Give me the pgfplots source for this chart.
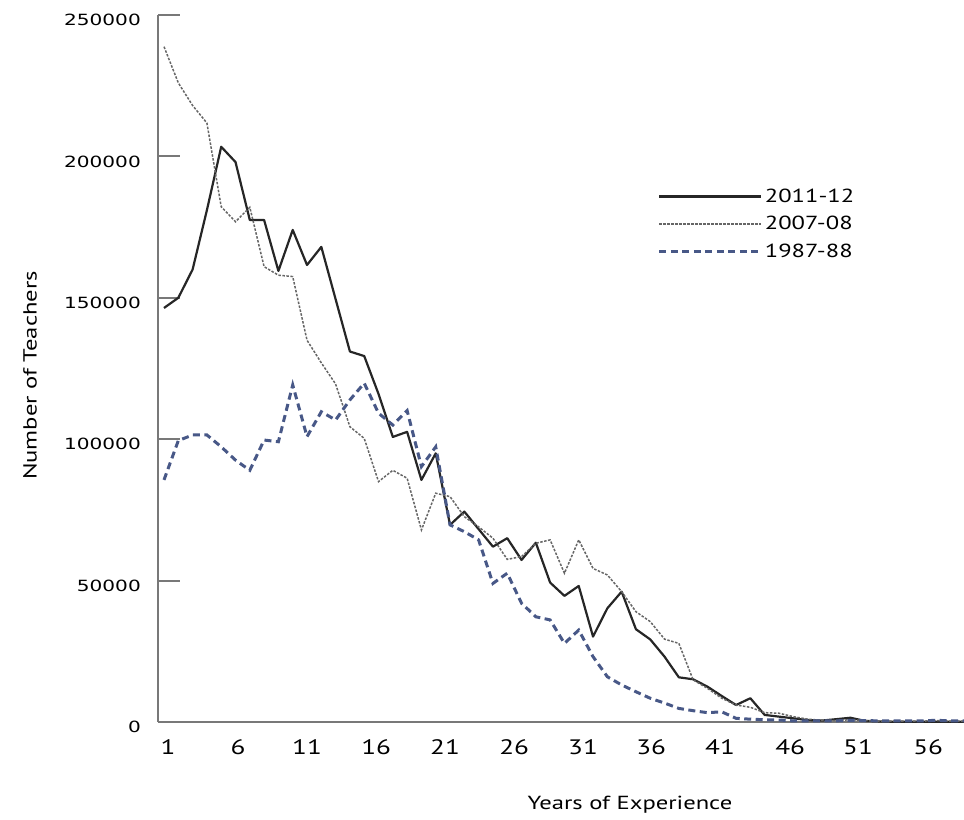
\documentclass[border=0pt]{standalone}
\usepackage{pgfplots}
\pgfplotsset{compat=1.18}
\usepackage{pgfplotstable}
\usepackage{fontspec}
\setmainfont[FakeStretch=1.3]{PT Sans}
\newfontfamily\yfont[FakeStretch=1.3]{DejaVu Sans}
\definecolor{slateblue}{RGB}{72,88,135}
\definecolor{axgray}{RGB}{120,120,120}

\pgfplotstableread{
x y
1 146400
2 150000
3 160000
4 181000
5 203400
6 198000
7 177500
8 177500
9 159500
10 174000
11 161600
12 168000
13 149500
14 131000
15 129400
16 116000
17 100800
18 102600
19 85600
20 95000
21 69700
22 74400
23 68200
24 62000
25 65000
26 57300
27 63400
28 49300
29 44600
30 48100
31 30200
32 40200
33 46100
34 32800
35 29200
36 23100
37 15800
38 15100
39 12500
40 9200
41 6000
42 8400
43 2500
44 1900
45 1300
46 700
47 500
48 1000
49 1500
50 400
51 200
52 100
53 100
54 100
55 100
56 100
56.94 100
}\dataA

\pgfplotstableread{
x y
1 238800
2 226000
3 218000
4 211800
5 182200
6 176900
7 182000
8 161000
9 158000
10 157500
11 135000
12 127000
13 119500
14 104400
15 100300
16 85000
17 89000
18 86200
19 67900
20 80900
21 79700
22 72600
23 69000
24 65000
25 57500
26 58500
27 63200
28 64400
29 52600
30 64400
31 54300
32 52000
33 46100
34 39000
35 35500
36 29300
37 27800
38 14900
39 11900
40 8400
41 6000
42 5200
43 3300
44 3100
45 1900
46 1000
47 600
48 500
49 800
50 500
51 300
52 300
53 300
54 300
55 500
56 300
56.94 300
}\dataB

\pgfplotstableread{
x y
1 85600
2 99500
3 101500
4 101500
5 97300
6 92600
7 89000
8 99700
9 99100
10 119200
11 100900
12 109700
13 106800
14 113900
15 119800
16 109200
17 105000
18 110100
19 90300
20 97300
21 69700
22 67300
23 64400
24 49000
25 52600
26 42000
27 37200
28 36100
29 27800
30 32500
31 23100
32 16000
33 13100
34 10700
35 8400
36 6700
37 4800
38 4000
39 3300
40 3600
41 1300
42 1000
43 800
44 700
45 400
46 400
47 400
48 400
49 600
50 500
51 400
52 400
53 400
54 400
55 600
56 400
56.94 400
}\dataC

\begin{document}
\begin{tikzpicture}
\path[use as bounding box] (0bp,0bp) rectangle (964bp,820bp);
\begin{axis}[
  at={(158bp,98bp)}, anchor=south west,
  scale only axis,
  width=806bp, height=707bp,
  xmin=0.58, xmax=56.94,
  ymin=0, ymax=250000,
  clip=false,
  axis lines=left,
  axis line style={draw=axgray, line width=2bp, -},
  xtick={1.28,6.17,11.0,15.83,20.65,25.48,30.30,35.06,39.88,44.78,49.53,54.43},
  xticklabels={1,6,11,16,21,26,31,36,41,46,51,56},
  ytick={0,50000,100000,150000,200000,250000},
  yticklabels={0,50000,100000,150000,200000,250000},
  scaled y ticks=false,
  /pgf/number format/assume math mode=true,
  x tick style={draw=none},
  y tick style={draw=axgray, line width=2bp},
  tick align=inside,
  major tick length=22bp,
  yticklabel style={font=\yfont\fontsize{15.5}{17}\selectfont, text=black, inner sep=0pt, anchor=east, xshift=-17bp, yshift=-5bp},
  xticklabel style={font=\fontsize{21}{23}\selectfont, text=black, inner sep=0pt, anchor=north, yshift=-17bp},
  xlabel={Years of Experience},
  ylabel={Number of Teachers},
  xlabel style={font=\fontsize{19}{21}\selectfont, text=black, at={(axis description cs:0.5856,0)}, anchor=center, yshift=-83bp},
  ylabel style={font=\fontsize{19}{21}\selectfont, text=black, at={(axis description cs:-0.1588,0.49)}, anchor=center},
  legend style={at={(axis description cs:0.62,0.757)}, anchor=north west, draw=none, fill=none,
    font=\fontsize{19}{21}\selectfont, text=black, inner sep=0pt, row sep=8.5bp,
    cells={anchor=west}},
  legend image code/.code={\draw[#1] (0bp,0bp) -- (102bp,0bp);},
]
\addplot[black!85, line width=2.2bp, line join=round] table[x=x,y=y] {\dataA};
\addlegendentry{2011-12}
\addplot[black!60, line width=1.5bp, dash pattern=on 2.5bp off 1.5bp] table[x=x,y=y] {\dataB};
\addlegendentry{2007-08}
\addplot[slateblue, line width=3bp, dash pattern=on 7bp off 4.5bp] table[x=x,y=y] {\dataC};
\addlegendentry{1987-88}
\end{axis}
\end{tikzpicture}
\end{document}
